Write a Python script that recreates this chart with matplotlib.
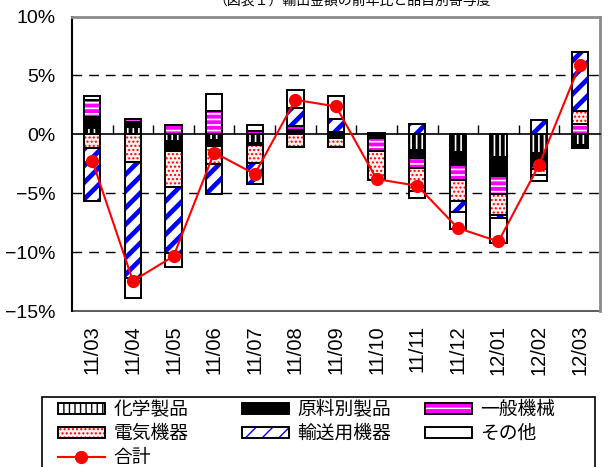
import numpy as np
import matplotlib
matplotlib.use("Agg")
import matplotlib.pyplot as plt
from matplotlib.patches import Patch, Rectangle
from matplotlib.lines import Line2D
from matplotlib.legend_handler import HandlerTuple
from matplotlib import font_manager

# ---------------- data ----------------
categories = ['11/03', '11/04', '11/05', '11/06', '11/07', '11/08', '11/09',
              '11/10', '11/11', '11/12', '12/01', '12/02', '12/03']
chem      = [0.57, 0.60, -0.54, -0.50, -0.75, 0.10, 0.20, -0.15, -1.35, -1.47, -1.90, -1.60, -0.90]
materials = [0.93, 0.48, -0.88, -0.50, -0.20, 0.30, -0.30, -0.20, -0.65, -1.13, -1.60, -1.05, -0.28]
machinery = [1.42, 0.25, 0.78, 2.00, 0.30, 0.30, 0.00, -1.10, -0.83, -1.27, -1.57, -0.30, 0.85]
electric  = [-1.19, -2.38, -3.03, -1.55, -1.45, -1.05, -0.75, -2.40, -2.00, -1.77, -1.78, -0.50, 1.15]
transport = [-4.47, -9.85, -5.66, -2.55, -1.80, 1.50, 1.13, 0.00, 0.90, -0.92, -0.28, 1.20, 4.95]
others    = [0.37, -1.70, -1.13, 1.40, 0.45, 1.55, 1.93, 0.15, -0.55, -1.48, -2.12, -0.55, 0.00]
total     = [-2.25, -12.45, -10.35, -1.55, -3.38, 2.93, 2.36, -3.80, -4.37, -7.96, -9.10, -2.59, 5.90]

series_names = ['化学製品', '原料別製品', '一般機械', '電気機器', '輸送用機器', 'その他']
total_name = '合計'
yticks = [10, 5, 0, -5, -10, -15]
ytick_labels = ['10%', '5%', '0%', '\u22125%', '\u221210%', '\u221215%']
title = '（図表１）輸出金額の前年比と品目別寄与度'

# ---------------- styles ----------------
# (face, hatch, hatch colour, hatch linewidth)
styles = [
    ('white',   '|||',  'black',   2.8),
    ('black',   None,   'black',   1.0),
    ('#ff00ff', '---',  'white',   1.2),
    ('#fff0f0', '....', '#ff0000', 1.0),
    ('white',   '//',   '#0000ff', 3.4),
    ('white',   None,   'white',   1.0),
]

def font_exists(name):
    try:
        font_manager.findfont(name, fallback_to_default=False)
        return True
    except Exception:
        return False

num_font = ['Liberation Sans Narrow'] if font_exists('Liberation Sans Narrow') else ['Liberation Sans']
num_font = num_font + ['DejaVu Sans']
jp_font = ['Noto Sans CJK JP', 'DejaVu Sans']
plt.rcParams['font.family'] = jp_font

W, H = 608, 467
fig = plt.figure(figsize=(W / 100, H / 100), dpi=100)
ax = fig.add_axes([72 / W, 1 - 311 / H, (600 - 72) / W, (311 - 16.5) / H])

x = np.arange(len(categories))
bw = 0.40
data = [chem, materials, machinery, electric, transport, others]

def set_hlw(p, lw):
    if hasattr(p, 'set_hatch_linewidth'):
        p.set_hatch_linewidth(lw)

pos_bottom = np.zeros(len(x))
neg_bottom = np.zeros(len(x))
for vals, (face, hatch, hcol, hlw) in zip(data, styles):
    v = np.array(vals, dtype=float)
    for i in range(len(x)):
        if v[i] == 0:
            continue
        if v[i] > 0:
            b = pos_bottom[i]
            pos_bottom[i] += v[i]
        else:
            b = neg_bottom[i]
            neg_bottom[i] += v[i]
        with plt.rc_context({'hatch.linewidth': hlw}):
            r = ax.bar(x[i], v[i], bottom=b, width=bw, color=face, edgecolor=hcol,
                       hatch=hatch, linewidth=0, zorder=2)
        for p in r.patches:
            set_hlw(p, hlw)
        ax.bar(x[i], v[i], bottom=b, width=bw, fill=False, edgecolor='black',
               linewidth=1.4, zorder=3)

ax.plot(x, total, color='#ff0000', lw=1.5, marker='o', markersize=8.5,
        markerfacecolor='#ff0000', markeredgecolor='#ff0000', zorder=5)

# axes
ax.set_xlim(-0.5, len(x) - 0.5)
ax.set_ylim(-15, 10)
ax.set_yticks(yticks)
ax.set_yticklabels(ytick_labels, family=num_font, fontsize=14)
ax.tick_params(axis='y', length=0, pad=12)
for yv in [5, -5, -10]:
    ax.axhline(yv, color='black', lw=1.0, dashes=(7, 5), zorder=1)

ax.spines['bottom'].set_position(('data', 0))
ax.spines['bottom'].set_linewidth(1.2)
ax.spines['bottom'].set_zorder(4)
ax.set_xticks(x[:-1] + 0.5)
ax.tick_params(axis='x', direction='in', length=6.5, width=1.0, labelbottom=False)
ax.spines['left'].set_linewidth(1.5)
for s in ['top', 'right']:
    ax.spines[s].set_color('#8a8a8a')
    ax.spines[s].set_linewidth(2.0)

sec = ax.secondary_xaxis('bottom')
sec.set_xticks(x)
sec.set_xticklabels(categories, rotation=90, family=num_font, fontsize=14.5)
sec.tick_params(length=0, pad=10)
sec.spines['bottom'].set_color('#404040')
sec.spines['bottom'].set_linewidth(1.2)

# title (cut off at top, as in the reference)
fig.text(352 / W, 1 - 1 / H, title, ha='center', va='center', fontsize=10)

# legend
def hatched(face, hatch, hcol, hlw):
    with plt.rc_context({'hatch.linewidth': hlw}):
        p = Patch(facecolor=face, edgecolor=hcol, hatch=hatch, linewidth=0)
    set_hlw(p, hlw)
    o = Patch(fill=False, edgecolor='black', linewidth=1.4)
    return (p, o)

handles = [hatched(*s) for s in styles]
line_h = Line2D([], [], color='#ff0000', lw=1.5, marker='o', markersize=8.5)

cols = [([handles[0], handles[3], line_h], [series_names[0], series_names[3], total_name], 58),
        ([handles[1], handles[4]], [series_names[1], series_names[4]], 242),
        ([handles[2], handles[5]], [series_names[2], series_names[5]], 425)]
for hs, labs, xpx in cols:
    fig.legend(hs, labs, loc='upper left', bbox_to_anchor=(xpx / W, 1 - 399 / H),
               frameon=False, fontsize=13.5, handlelength=2.5, handleheight=0.5,
               handletextpad=0.45, labelspacing=0.16, borderpad=0, borderaxespad=0,
               handler_map={tuple: HandlerTuple(ndivide=1, pad=0)})
fig.patches.append(Rectangle((42 / W, -0.05), (595 - 42) / W, 0.05 + 1 - 397 / H,
                             transform=fig.transFigure, fill=False, edgecolor='black',
                             linewidth=1.2))

fig.savefig('out.png', dpi=100)
